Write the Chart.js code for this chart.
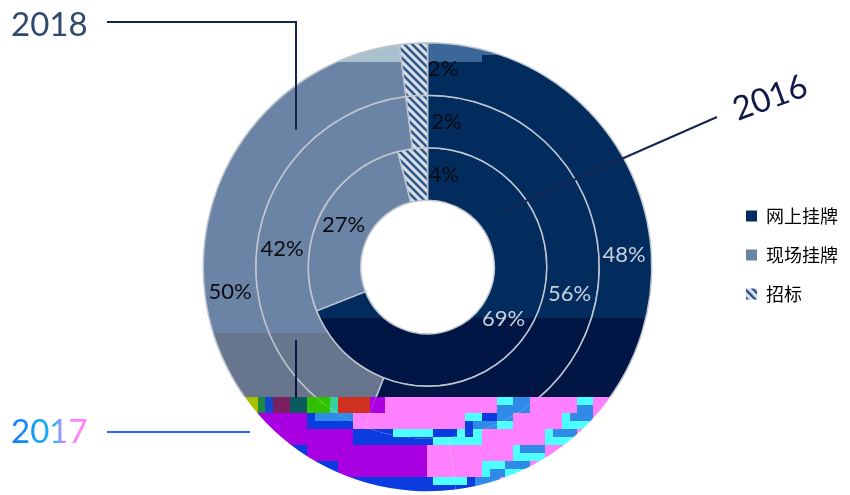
<!DOCTYPE html>
<html><head><meta charset="utf-8">
<script src="https://cdn.jsdelivr.net/npm/chart.js@4"></script>
<style>html,body{margin:0;padding:0;background:#fff}canvas{display:block}</style>
</head><body><canvas id="c" width="850" height="495"></canvas>
<script>
const categories = ['网上挂牌', '现场挂牌', '招标'];
const years = ['2018', '2017', '2016'];
const values2018 = [48, 50, 2];
const values2017 = [56, 42, 2];
const values2016 = [69, 27, 4];

function glitch(g) {
  const r = (col, x0, y0, x1, y1) => { g.fillStyle = col; g.fillRect(x0, y0, x1 - x0, y1 - y0); };
  const P = '#ff80ff', V = '#a800e0', B = '#0a3ce0', C = '#4dffff', D = '#2f8ae8';
  r(P, 0, 397, 850, 495);
  r(V, 0, 397, 427, 495);
  // row 1
  [['#a8c000',243,258],['#1c8a3c',258,265],['#1048d0',265,273],['#7a2060',273,290],['#0a5a60',290,307],
   ['#30c000',307,330],['#38d0a0',330,338],['#d03020',338,370],[V,370,385],[P,385,850]].forEach(a => r(a[0], a[1], 397, a[2], 413));
  r(C,497,397,530,405); r(D,513,397,530,405); r(D,497,405,530,413);
  r(C,577,397,593,413); r(D,577,405,593,413);
  // row 2
  r(P,353,413,850,429); r(B,307,413,353,429); r(D,315,413,353,421);
  r(C,465,413,513,429); r(B,482,413,497,421); r(D,465,421,497,429); r(D,497,413,513,421);
  r(C,562,413,593,429); r(D,570,413,593,421);
  // row 3
  r(P,433,429,850,445); r(B,353,429,393,445); r(C,393,429,433,437); r(B,393,437,433,445);
  r(B,433,429,457,437); r(C,433,437,482,445); r(C,457,429,482,437); r(B,465,421,473,437);
  r(C,545,429,577,445); r(D,553,429,577,437);
  // row 4
  r(P,427,445,850,461); r(B,290,445,307,461); r(C,513,445,545,461); r(D,520,445,545,453);
  // row 5
  r(P,427,461,850,477); r(B,313,461,338,477); r(C,482,461,530,477); r(D,505,461,530,469); r(D,490,469,505,477);
  // row 6
  r(P,427,477,850,495); r(B,347,477,433,495); r(C,433,477,467,495); r(B,433,485,467,495); r(B,467,477,475,495); r(D,475,477,500,495);
}

function texture(paint) {
  const t = document.createElement('canvas');
  t.width = 850; t.height = 495;
  const g = t.getContext('2d');
  paint(g);
  glitch(g);
  return t;
}
const ctx = document.getElementById('c').getContext('2d');
const navyFill = ctx.createPattern(texture(g => {
  g.fillStyle = '#032c5e'; g.fillRect(0, 0, 850, 495);
  g.fillStyle = '#3c6899'; g.fillRect(0, 0, 482, 62); g.fillRect(482, 0, 368, 55);
  g.fillStyle = '#011645'; g.fillRect(0, 318, 850, 177);
}), 'no-repeat');
const grayFill = ctx.createPattern(texture(g => {
  g.fillStyle = '#6b83a4'; g.fillRect(0, 0, 850, 495);
  g.fillStyle = '#a9c1cf'; g.fillRect(0, 0, 850, 62);
  g.fillStyle = '#68758f'; g.fillRect(0, 333, 850, 162);
}), 'no-repeat');
const tile = document.createElement('canvas');
tile.width = 8; tile.height = 8;
(g => {
  g.fillStyle = '#d6dde6'; g.fillRect(0, 0, 8, 8);
  g.strokeStyle = '#2c5686'; g.lineWidth = 2.4; g.lineCap = 'square';
  [[-8,0,8,16],[0,-8,16,8],[-8,-8,16,16]].forEach(s => { g.beginPath(); g.moveTo(s[0],s[1]); g.lineTo(s[2],s[3]); g.stroke(); });
})(tile.getContext('2d'));
const hatchFill = ctx.createPattern(tile, 'repeat');
const fills = [navyFill, grayFill, hatchFill];
const borderGrad = ctx.createLinearGradient(0, 0, 0, 495);
borderGrad.addColorStop(0, '#bfc6d0');
borderGrad.addColorStop(397 / 495, '#bfc6d0');
borderGrad.addColorStop(397 / 495, 'rgba(0,0,0,0)');
borderGrad.addColorStop(1, 'rgba(0,0,0,0)');
const ds = (label, data) => ({ label, data, backgroundColor: fills, borderColor: borderGrad, borderWidth: 1.5 });

const moveLegend = {
  id: 'moveLegend',
  afterLayout(chart) {
    const l = chart.legend, w = l.right - l.left, h = l.bottom - l.top;
    l.left = 725; l.right = 725 + w; l.top = 255 - h / 2; l.bottom = l.top + h;
  }
};
const pctLabels = {
  id: 'pctLabels',
  afterDatasetsDraw(chart) {
    const c = chart.ctx;
    c.save();
    c.textAlign = 'center'; c.textBaseline = 'middle';
    c.font = '22px Lato';
    chart.data.datasets.forEach((d, i) => {
      chart.getDatasetMeta(i).data.forEach((arc, j) => {
        const p = arc.tooltipPosition();
        c.fillStyle = j === 0 ? '#c6d0dc' : '#0b0b14';
        c.fillText(d.data[j] + '%', p.x + (j === 2 ? 28 : -1), p.y);
      });
    });
    c.restore();
  }
};
const annotations = {
  id: 'annotations',
  afterDraw(chart) {
    const c = chart.ctx;
    const line = (col, pts) => { c.strokeStyle = col; c.lineWidth = 2; c.beginPath(); pts.forEach((p, i) => i ? c.lineTo(p[0], p[1]) : c.moveTo(p[0], p[1])); c.stroke(); };
    c.save();
    line('#14264f', [[107, 22], [296, 22], [296, 130]]);
    line('#0a1440', [[296, 340], [296, 398]]);
    line('#1f6fff', [[107, 432], [250, 432]]);
    line('#14264f', [[717, 117], [503, 211]]);
    c.font = '33px Lato'; c.textBaseline = 'middle'; c.textAlign = 'left';
    c.fillStyle = '#2f4a6d'; c.fillText(years[0], 11, 25);
    const tw = c.measureText(years[1]).width;
    const tg = c.createLinearGradient(11, 0, 11 + tw, 0);
    tg.addColorStop(0, '#1478ff'); tg.addColorStop(0.55, '#18b8f0'); tg.addColorStop(0.72, '#ff80ff'); tg.addColorStop(1, '#ff80ff');
    c.fillStyle = tg; c.fillText(years[1], 11, 432);
    c.translate(770, 98); c.rotate(-20 * Math.PI / 180);
    c.textAlign = 'center'; c.fillStyle = '#101a48'; c.fillText(years[2], 0, 0);
    c.restore();
  }
};

new Chart(ctx, {
  type: 'doughnut',
  data: { labels: categories, datasets: [ds(years[0], values2018), ds(years[1], values2017), ds(years[2], values2016)] },
  options: {
    responsive: false,
    animation: false,
    cutout: '29.8%',
    layout: { padding: { left: 128, right: 0, top: 42, bottom: 3 } },
    plugins: {
      tooltip: { enabled: false },
      legend: {
        position: 'right',
        labels: {
          boxWidth: 11, boxHeight: 11, padding: 21,
          color: '#333c4a',
          font: { family: '"Noto Sans CJK SC"', size: 18 },
          generateLabels: () => categories.map((t, i) => ({ text: t, fillStyle: [ '#032c5e', '#6b83a4', hatchFill ][i], strokeStyle: 'rgba(0,0,0,0)', lineWidth: 0, index: i }))
        }
      }
    }
  },
  plugins: [moveLegend, pctLabels, annotations]
});
</script></body></html>
